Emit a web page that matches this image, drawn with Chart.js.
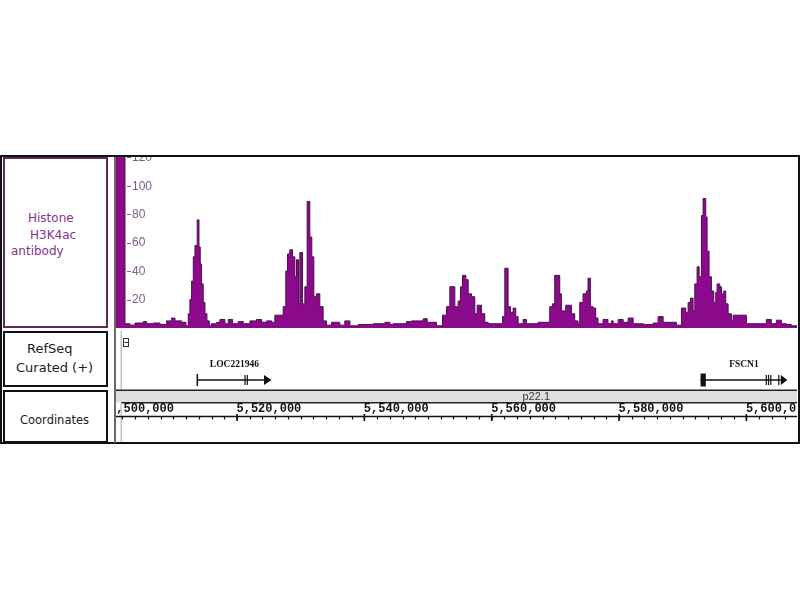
<!DOCTYPE html>
<html>
<head>
<meta charset="utf-8">
<script src="https://cdn.jsdelivr.net/npm/chart.js@4.4.1/dist/chart.umd.min.js"></script>
<style>
  body { margin: 0; background: #fff; width: 800px; height: 600px; position: relative; overflow: hidden;
         font-family: "DejaVu Sans", sans-serif; }
  .abs { position: absolute; }
  .box { position: absolute; box-sizing: border-box; background: #fff; }
  .lbl { position: absolute; white-space: nowrap; line-height: 14px; }
  canvas { position: absolute; }
</style>
</head>
<body>

<!-- ── FRAME + LEFT TRACK NAMES ─────────────────────────────────────────── -->
<div class="box" style="left:0;top:155px;width:800px;height:289px;border:2px solid #111;"></div>

<div class="box" style="left:3px;top:157px;width:105px;height:171px;border:2px solid #5c2b58;"></div>
<div class="lbl" style="left:28px;top:211px;font-size:12px;color:#86308a;">Histone</div>
<div class="lbl" style="left:30px;top:228px;font-size:12px;color:#86308a;">H3K4ac</div>
<div class="lbl" style="left:11px;top:244px;font-size:12px;color:#86308a;">antibody</div>

<div class="box" style="left:3px;top:331px;width:105px;height:56px;border:2px solid #111;"></div>
<div class="lbl" style="left:27px;top:342px;font-size:13px;color:#1a1a1a;">RefSeq</div>
<div class="lbl" style="left:16px;top:361px;font-size:13px;color:#1a1a1a;">Curated (+)</div>

<div class="box" style="left:3px;top:390px;width:105px;height:53px;border:2px solid #111;"></div>
<div class="lbl" style="left:20px;top:413px;font-size:11.5px;color:#1a1a1a;">Coordinates</div>

<div class="abs" style="left:114px;top:157px;width:2px;height:286px;background:#6a6a6a;"></div>

<canvas id="sig" width="681" height="171" style="left:116px;top:157px;"></canvas>
<canvas id="trk" width="681" height="113" style="left:116px;top:329px;"></canvas>

<script>
/* ── VIEW (kb on chr7) ─────────────────────────────────────────────────── */
const X_MIN = 5501.0;
const X_MAX = 5607.95;
const Y_MAX = 120.2;
const yTicks = [20, 40, 60, 80, 100, 120];

/* ── SIGNAL (bedGraph-style: step start in kb, coverage value) ─────────── */
const sigStart = [
  5501.00, 5502.41, 5503.20, 5503.98, 5505.29, 5505.81, 5506.86, 5507.91, 5508.95, 5509.74,
  5510.26, 5511.30, 5511.98, 5512.35, 5512.61, 5512.87, 5513.14, 5513.40, 5513.76, 5514.03,
  5514.23, 5514.44, 5514.70, 5514.97, 5515.28, 5515.65, 5516.01, 5516.80, 5517.32, 5518.10,
  5518.63, 5519.31, 5520.20, 5520.98, 5522.03, 5523.07, 5523.86, 5524.64, 5525.43, 5525.95,
  5527.26, 5527.67, 5527.94, 5528.30, 5528.72, 5529.09, 5529.35, 5529.66, 5529.87, 5530.29,
  5530.66, 5531.02, 5531.44, 5531.75, 5532.07, 5532.49, 5533.01, 5533.53, 5534.06, 5534.84,
  5536.15, 5536.93, 5537.74, 5539.05, 5541.40, 5543.23, 5544.02, 5544.54, 5546.63, 5547.41,
  5549.25, 5549.87, 5551.34, 5552.28, 5552.91, 5553.43, 5554.21, 5554.74, 5555.10, 5555.42,
  5555.94, 5556.31, 5556.83, 5557.35, 5557.72, 5558.40, 5558.92, 5559.44, 5561.69, 5562.06,
  5562.58, 5562.95, 5563.37, 5563.78, 5564.15, 5564.94, 5565.46, 5567.29, 5569.12, 5569.54,
  5569.90, 5570.69, 5570.95, 5571.63, 5572.52, 5573.04, 5573.56, 5573.83, 5574.35, 5574.87,
  5575.13, 5575.50, 5575.92, 5576.34, 5576.70, 5577.49, 5578.27, 5578.79, 5579.08, 5579.87,
  5580.65, 5581.44, 5582.22, 5583.79, 5585.36, 5586.14, 5586.93, 5589.02, 5589.80, 5590.48,
  5590.85, 5591.22, 5591.63, 5591.90, 5592.26, 5592.58, 5592.94, 5593.20, 5593.62, 5593.83,
  5594.14, 5594.51, 5594.88, 5595.19, 5595.40, 5595.82, 5596.08, 5596.45, 5596.76, 5597.13,
  5597.65, 5597.91, 5600.00, 5603.14, 5603.92, 5604.71, 5605.49, 5606.28, 5607.06
];
const sigValue = [
  150, 3, 2, 3.5, 4.5, 3, 3.5, 2.5, 5, 7,
  5, 4, 1.5, 10, 20, 33, 50, 58, 76, 57,
  45, 31, 18, 10, 5, 2, 3, 4, 6, 3,
  6, 3, 4.5, 3, 5, 6, 4, 5, 4, 9,
  15, 40, 52, 55, 50, 36, 48, 17, 53, 17,
  29, 89, 64, 50, 22, 24, 15, 5, 2, 4,
  2, 5, 1.5, 2.5, 3, 4, 2.5, 3, 4.5, 5,
  6.5, 4, 1.5, 9, 15, 29, 15, 19, 29, 37,
  34, 24, 22, 10, 16, 10, 4, 3, 8, 42,
  15, 11, 14, 8, 3, 6, 3, 4, 15, 17,
  37, 24, 12, 16, 10, 5, 3, 18, 24, 26,
  35, 15, 14, 7, 3, 6, 3, 5, 3, 6,
  4, 7, 3, 2.5, 3.5, 8, 4, 2, 14, 11,
  18, 21, 12, 31, 43, 36, 79, 91, 78, 54,
  36, 26, 18, 25, 31, 29, 24, 26, 17, 10,
  5, 9, 3, 6, 3, 5.5, 3, 2.5, 1.5
];

/* ── REFSEQ GENES (kb) ─────────────────────────────────────────────────── */
const geneNames     = ["LOC221946", "FSCN1"];
const geneStart     = [5513.77, 5592.80];
const geneArrowBase = [5524.24, 5605.41];
const geneEnd       = [5525.42, 5606.43];
const geneBlockEnd  = [null, 5593.63];
const geneMarks     = [[5521.26, 5521.62], [5603.13, 5603.48, 5603.84, 5605.09]];

/* ── RULER ─────────────────────────────────────────────────────────────── */
const rulerTicks  = [5500, 5520, 5540, 5560, 5580, 5600];
const rulerLabels = ["5,500,000", "5,520,000", "5,540,000", "5,560,000", "5,580,000", "5,600,000"];
const minorStep   = 2;
const bandName    = "p22.1";
const bandPos     = 5567.0;

/* ── PALETTE ───────────────────────────────────────────────────────────── */
const C = {
  fill: "#8b0a8b",
  edge: "#4f0f4f",
  axis: "#7d5a88",
  ink: "#111111",
  band: "#dedede",
  guide: "#c4c4c4",
};

const BASE_OPTS = {
  responsive: false,
  animation: false,
  events: [],
  layout: { autoPadding: false, padding: 0 },
  plugins: { legend: { display: false }, tooltip: { enabled: false } },
};

/* ── SIGNAL TRACK ──────────────────────────────────────────────────────── */
const sigPoints = sigStart.map((s, i) => ({ x: s, y: sigValue[i] }));
sigPoints.push({ x: X_MAX, y: sigValue[sigValue.length - 1] });

// data-range labels drawn inside the track, IGV style: "-100"
const yLabelPlugin = {
  id: "yLabels",
  afterDraw(chart) {
    const { ctx, scales: { y } } = chart;
    ctx.save();
    ctx.strokeStyle = C.axis;
    ctx.fillStyle = C.axis;
    ctx.lineWidth = 1;
    ctx.font = '12px "Liberation Sans"';
    ctx.textAlign = "left";
    ctx.textBaseline = "middle";
    yTicks.forEach(v => {
      const py = y.getPixelForValue(v);
      const ly = Math.round(py) + 0.5;
      ctx.beginPath();
      ctx.moveTo(11, ly);
      ctx.lineTo(15, ly);
      ctx.stroke();
      ctx.fillText(String(v), 16, py + 0.5);
    });
    ctx.restore();
  },
};

new Chart(document.getElementById("sig"), {
  type: "line",
  data: {
    datasets: [{
      data: sigPoints,
      stepped: true,
      fill: "origin",
      backgroundColor: C.fill,
      borderColor: C.edge,
      borderWidth: 1,
      pointRadius: 0,
    }],
  },
  options: {
    ...BASE_OPTS,
    scales: {
      x: { type: "linear", min: X_MIN, max: X_MAX, display: false },
      y: { type: "linear", min: 0, max: Y_MAX, display: false },
    },
  },
  plugins: [yLabelPlugin],
});

/* ── GENE + COORDINATE TRACKS ──────────────────────────────────────────── */
const trackPlugin = {
  id: "tracks",
  afterDraw(chart) {
    const { ctx, chartArea: { left, right }, scales: { x } } = chart;
    const px = v => x.getPixelForValue(v);
    ctx.save();

    // guide line + collapse icon
    ctx.fillStyle = C.guide;
    ctx.fillRect(4.5, 2, 1.5, 111);
    ctx.strokeStyle = "#333";
    ctx.lineWidth = 1;
    ctx.strokeRect(7.5, 9.5, 5, 8);
    ctx.beginPath();
    ctx.moveTo(8.5, 13.5);
    ctx.lineTo(12, 13.5);
    ctx.stroke();

    // genes
    geneNames.forEach((name, i) => {
      const x0 = px(geneStart[i]), xb = px(geneArrowBase[i]), x1 = px(geneEnd[i]);
      const gy = 51;
      ctx.strokeStyle = C.ink;
      ctx.fillStyle = C.ink;
      ctx.lineWidth = 1.5;
      ctx.beginPath();
      ctx.moveTo(x0, gy);
      ctx.lineTo(xb, gy);
      ctx.stroke();
      if (geneBlockEnd[i] === null) {
        ctx.beginPath();
        ctx.moveTo(x0, gy - 6);
        ctx.lineTo(x0, gy + 6);
        ctx.stroke();
      } else {
        ctx.fillRect(x0, gy - 6.5, px(geneBlockEnd[i]) - x0, 13);
      }
      ctx.lineWidth = 1.2;
      geneMarks[i].forEach(m => {
        ctx.beginPath();
        ctx.moveTo(px(m), gy - 5);
        ctx.lineTo(px(m), gy + 5);
        ctx.stroke();
      });
      ctx.beginPath();
      ctx.moveTo(xb, gy - 5);
      ctx.lineTo(x1, gy);
      ctx.lineTo(xb, gy + 5);
      ctx.closePath();
      ctx.fill();

      ctx.font = 'bold 9.5px "Liberation Serif"';
      ctx.textAlign = "center";
      ctx.textBaseline = "middle";
      ctx.fillText(name, px((geneStart[i] + geneEnd[i]) / 2), 36);
    });

    // cytoband strip
    ctx.fillStyle = C.band;
    ctx.fillRect(left, 62, right - left, 11.5);
    ctx.fillStyle = "#222";
    ctx.fillRect(left, 60.5, right - left, 1.5);
    ctx.fillRect(5.5, 73, right - 5.5, 1.5);
    ctx.fillStyle = "#3a3a3a";
    ctx.font = '11px "Liberation Sans"';
    ctx.textAlign = "center";
    ctx.textBaseline = "middle";
    ctx.fillText(bandName, px(bandPos), 68);

    // ruler
    ctx.strokeStyle = C.ink;
    ctx.fillStyle = C.ink;
    ctx.lineWidth = 1.3;
    ctx.beginPath();
    ctx.moveTo(left, 87.5);
    ctx.lineTo(right, 87.5);
    ctx.stroke();
    ctx.lineWidth = 1.2;
    for (let k = rulerTicks[0]; k <= X_MAX; k += minorStep) {
      const tx = Math.round(px(k)) + 0.5;
      ctx.beginPath();
      ctx.moveTo(tx, 87.5);
      ctx.lineTo(tx, 90.5);
      ctx.stroke();
    }
    ctx.lineWidth = 1.6;
    ctx.font = 'bold 12px "Liberation Mono"';
    ctx.textAlign = "left";
    ctx.textBaseline = "middle";
    rulerTicks.forEach((t, i) => {
      const tx = px(t);
      ctx.beginPath();
      ctx.moveTo(tx, 85);
      ctx.lineTo(tx, 92);
      ctx.stroke();
      ctx.fillText(rulerLabels[i], tx - 0.5, 80);
    });

    ctx.restore();
  },
};

new Chart(document.getElementById("trk"), {
  type: "scatter",
  data: { datasets: [] },
  options: {
    ...BASE_OPTS,
    scales: {
      x: { type: "linear", min: X_MIN, max: X_MAX, display: false },
      y: { min: 0, max: 113, reverse: true, display: false },
    },
  },
  plugins: [trackPlugin],
});
</script>
</body>
</html>
